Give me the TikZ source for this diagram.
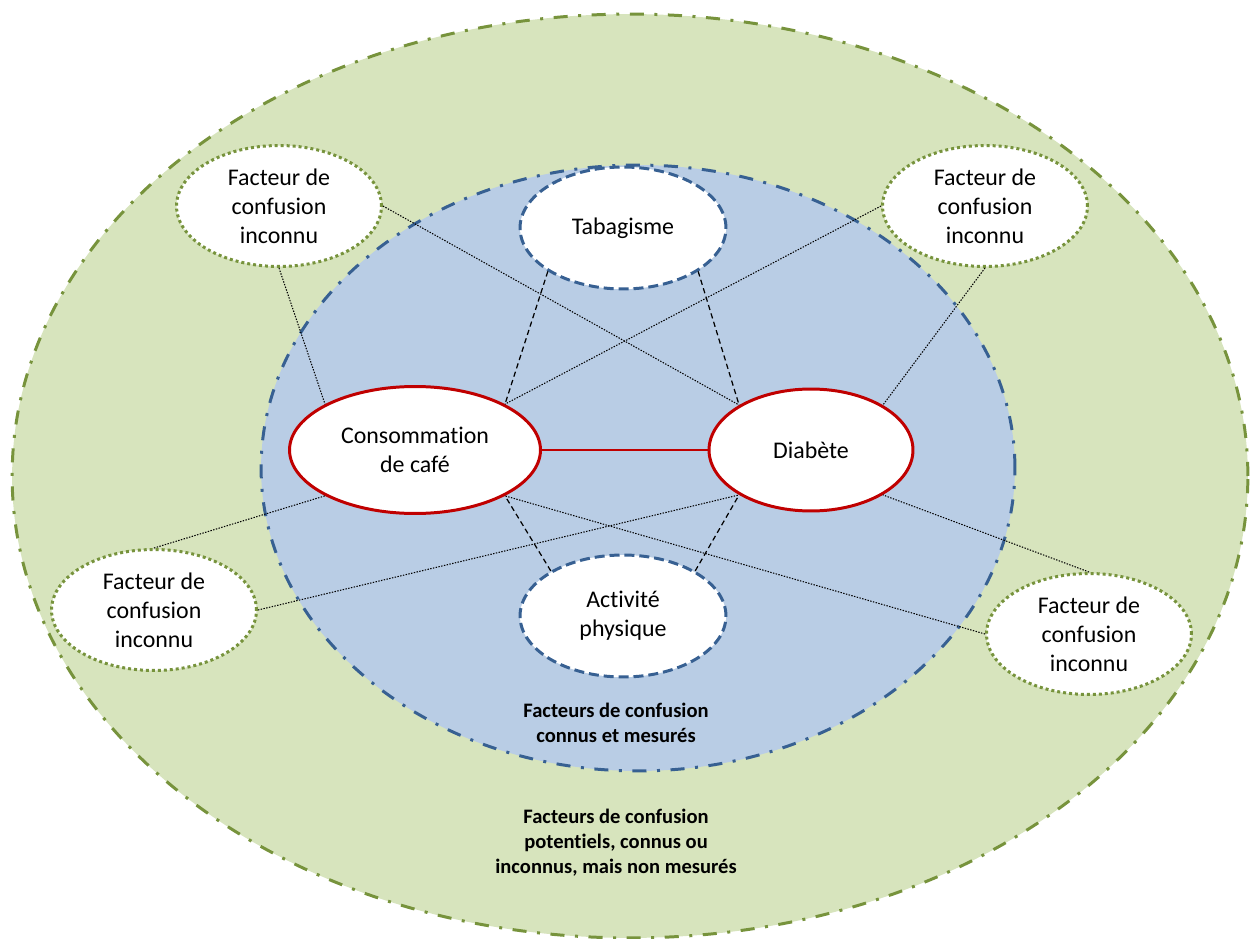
\documentclass[tikz,border=0pt]{standalone}
\usepackage{fontspec}
\setmainfont{Carlito}[Ligatures=NoCommon]
\usetikzlibrary{shapes.geometric}

\definecolor{vertclair}{HTML}{D7E4BD}
\definecolor{vertfonce}{HTML}{77933C}
\definecolor{bleuclair}{HTML}{B9CDE5}
\definecolor{bleufonce}{HTML}{376092}
\definecolor{rouge}{HTML}{C00000}

\begin{document}
\begin{tikzpicture}[x=0.02cm, y=-0.02cm,
    texte/.style={align=center, font=\fontsize{13.6}{16.4}\selectfont},
    inconnu/.style={texte, ellipse, draw=vertfonce, fill=white, line width=1.7pt,
        dash pattern=on 1.7pt off 1.7pt, minimum width=4.1cm, minimum height=2.42cm, inner sep=0pt},
    mesure/.style={texte, ellipse, draw=bleufonce, fill=white, line width=1.7pt,
        dash pattern=on 5.7pt off 2.8pt, minimum width=4.12cm, minimum height=2.44cm, inner sep=0pt},
    principal/.style={texte, ellipse, draw=rouge, fill=white, line width=1.7pt, inner sep=0pt},
    pointille/.style={line width=0.6pt, dash pattern=on 0.8pt off 0.8pt},
    tirets/.style={line width=0.7pt, dash pattern=on 3pt off 2pt},
    legende/.style={align=center, font=\bfseries\fontsize{11.7}{14.2}\selectfont}]

    \useasboundingbox (0,0) rectangle (1251,939);

    % Zone des facteurs non mesures
    \draw[fill=vertclair, draw=vertfonce, line width=1.7pt,
        dash pattern=on 8pt off 6pt on 1.7pt off 6pt]
        (630,476) ellipse [x radius=12.36cm, y radius=9.24cm];

    % Zone des facteurs mesures
    \draw[fill=bleuclair, draw=bleufonce, line width=1.7pt,
        dash pattern=on 8pt off 6pt on 1.7pt off 6pt]
        (638,468) ellipse [x radius=7.54cm, y radius=6.06cm];

    % Exposition et evenement
    \node[principal, minimum width=5.02cm, minimum height=2.54cm] (cafe) at (415,450) {Consommation\\de café};
    \node[principal, minimum width=4.08cm, minimum height=2.44cm] (diabete) at (811,450) {Diabète};

    % Facteurs connus
    \node[mesure] (tabac) at (623,228) {Tabagisme};
    \node[mesure] (activite) at (623,616) {Activité\\physique};

    % Facteurs inconnus
    \node[inconnu] (inchg) at (279,206) {Facteur de\\confusion\\inconnu};
    \node[inconnu] (inchd) at (985,206) {Facteur de\\confusion\\inconnu};
    \node[inconnu] (incbg) at (154,610) {Facteur de\\confusion\\inconnu};
    \node[inconnu] (incbd) at (1089,634) {Facteur de\\confusion\\inconnu};

    % Liens
    \draw[rouge, line width=0.8pt] (cafe.east) -- (diabete.west);

    \draw[tirets] (tabac.210) -- (cafe.27);
    \draw[tirets] (tabac.330) -- (diabete.148);
    \draw[tirets] (activite.148) -- (cafe.333);
    \draw[tirets] (activite.32) -- (diabete.212);

    \draw[pointille] (inchg.south) -- (cafe.153);
    \draw[pointille] (inchg.east) -- (diabete.148);
    \draw[pointille] (inchd.west) -- (cafe.27);
    \draw[pointille] (inchd.south) -- (diabete.32);
    \draw[pointille] (incbg.north) -- (cafe.207);
    \draw[pointille] (incbg.east) -- (diabete.212);
    \draw[pointille] (incbd.north) -- (diabete.328);
    \draw[pointille] (incbd.west) -- (cafe.333);

    % Legendes
    \node[legende] (lmesure) at (616,723) {Facteurs de confusion\\connus et mesurés};
    \node[legende] (lnonmesure) at (616,843) {Facteurs de confusion\\potentiels, connus ou\\inconnus, mais non mesurés};
\end{tikzpicture}
\end{document}
